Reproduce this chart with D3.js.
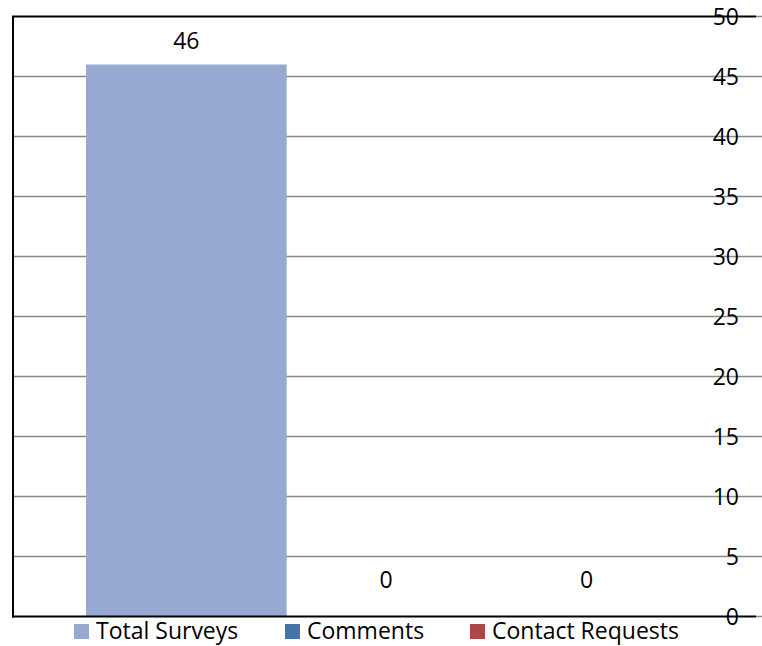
<!DOCTYPE html>
<html>
<head>
<meta charset="utf-8">
<script src="https://cdn.jsdelivr.net/npm/d3@7/dist/d3.min.js"></script>
<style>
  html, body { margin: 0; padding: 0; background: #fff; }
  svg { display: block; }
  text { font-family: "Open Sans", "Noto Sans", sans-serif; fill: #000; }
</style>
</head>
<body>
<svg id="chart" width="762" height="646"></svg>
<script>
const seriesNames = ["Total Surveys", "Comments", "Contact Requests"];
const seriesValues = [46, 0, 0];
const seriesColors = ["#95a9d1", "#4572a9", "#ab4846"];
const yTicks = [0, 5, 10, 15, 20, 25, 30, 35, 40, 45, 50];

const svg = d3.select("#chart");
const plotLeft = 13, plotRight = 762, axisEnd = 756;
const y = d3.scaleLinear().domain([0, 50]).range([616.5, 16.5]);
const x = d3.scaleBand().domain(seriesNames).range([86, 688]).paddingInner(0).paddingOuter(0);

// gridlines
svg.append("g").selectAll("line").data(yTicks.filter(t => t !== 0 && t !== 50)).join("line")
  .attr("x1", plotLeft).attr("x2", plotRight)
  .attr("y1", d => y(d)).attr("y2", d => y(d))
  .attr("stroke", "#888").attr("stroke-width", 1.5);

// bars
svg.append("g").selectAll("rect").data(seriesValues).join("rect")
  .attr("x", (d, i) => x(seriesNames[i]))
  .attr("width", x.bandwidth())
  .attr("y", d => y(d))
  .attr("height", d => y(0) - y(d))
  .attr("fill", (d, i) => seriesColors[i]);

// top & bottom borders, left border
svg.append("line").attr("x1", axisEnd).attr("x2", plotRight).attr("y1", y(50)).attr("y2", y(50)).attr("stroke", "#888").attr("stroke-width", 1.5);
svg.append("line").attr("x1", axisEnd).attr("x2", plotRight).attr("y1", y(0)).attr("y2", y(0)).attr("stroke", "#888").attr("stroke-width", 1.5);
svg.append("line").attr("x1", plotLeft - 1).attr("x2", axisEnd).attr("y1", y(50)).attr("y2", y(50)).attr("stroke", "#000").attr("stroke-width", 2);
svg.append("line").attr("x1", plotLeft - 1).attr("x2", axisEnd).attr("y1", y(0)).attr("y2", y(0)).attr("stroke", "#000").attr("stroke-width", 2);
svg.append("line").attr("x1", plotLeft).attr("x2", plotLeft).attr("y1", y(50)).attr("y2", y(0) + 1).attr("stroke", "#000").attr("stroke-width", 2);

// right axis tick labels (drawn inside the plot, over the lines)
const axis = d3.axisRight(y).tickValues(yTicks).tickSize(0).tickPadding(0);
const ga = svg.append("g").attr("transform", "translate(739,0)").call(axis);
ga.select(".domain").remove();
ga.selectAll("text")
  .attr("x", 0).attr("dy", "0.35em")
  .attr("text-anchor", "end")
  .style("font-family", '"Open Sans", "Noto Sans", sans-serif')
  .style("font-size", "23px").attr("fill", "#000");

// data labels
svg.append("g").selectAll("text").data(seriesValues).join("text")
  .attr("x", (d, i) => x(seriesNames[i]) + x.bandwidth() / 2 - (i > 0 ? 1 : 0))
  .attr("y", d => y(d) - (d === 0 ? 28.5 : 16))
  .attr("text-anchor", "middle")
  .style("font-size", "23px")
  .text(d => d);

// legend
const legendX = [74, 285, 470];
const lg = svg.append("g").selectAll("g").data(seriesNames).join("g")
  .attr("transform", (d, i) => `translate(${legendX[i]},0)`);
lg.append("rect").attr("x", 0).attr("y", 624).attr("width", 15).attr("height", 15)
  .attr("fill", (d, i) => seriesColors[i]);
lg.append("text").attr("x", 22).attr("y", 639).style("font-size", "23px").text(d => d);
</script>
</body>
</html>
